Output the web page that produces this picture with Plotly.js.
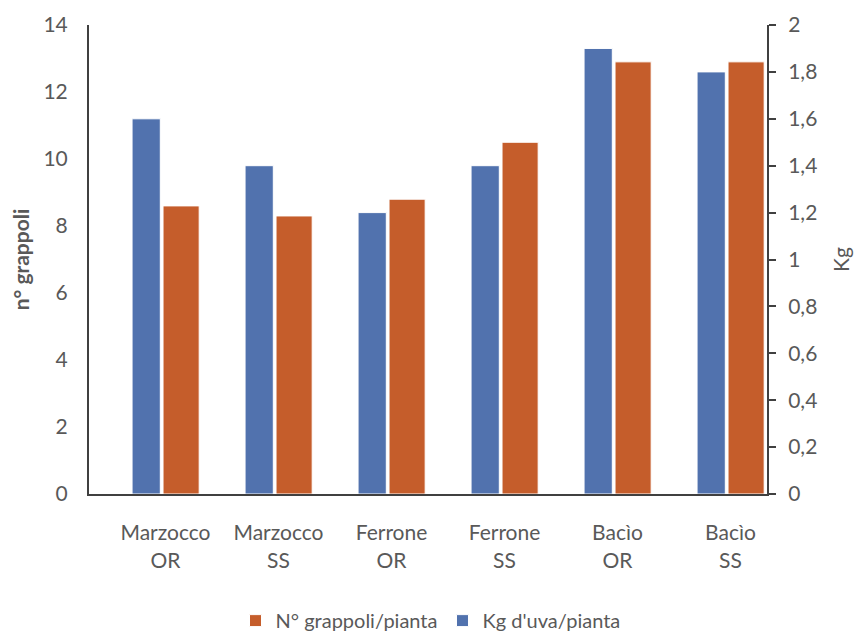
<!DOCTYPE html>
<html>
<head>
<meta charset="utf-8">
<script src="https://cdn.plot.ly/plotly-3.0.1.min.js"></script>
<style>html,body{margin:0;padding:0;background:#fff;}#chart{width:861px;height:632px;}</style>
</head>
<body>
<div id="chart"></div>
<script>
const categories = ["Marzocco<br>OR", "Marzocco<br>SS", "Ferrone<br>OR", "Ferrone<br>SS", "Bacìo<br>OR", "Bacìo<br>SS"];
const grappoliPerPianta = [8.6, 8.3, 8.8, 10.5, 12.9, 12.9];
const kgUvaPerPianta = [1.6, 1.4, 1.2, 1.4, 1.9, 1.8];
const leftTicks = [0, 2, 4, 6, 8, 10, 12, 14];
const rightTicks = [0, 0.2, 0.4, 0.6, 0.8, 1, 1.2, 1.4, 1.6, 1.8, 2];

const FONT = "Lato, 'Open Sans', sans-serif";
const GREY = "#595959";

const traces = [
  {
    type: "bar", name: "N° grappoli/pianta", x: categories, y: grappoliPerPianta,
    yaxis: "y", marker: {color: "#C55D2B", line: {color: "#ffffff", width: 1}},
    offset: -0.022, width: 0.32
  },
  {
    type: "bar", name: "Kg d'uva/pianta", x: categories, y: kgUvaPerPianta,
    yaxis: "y2", marker: {color: "#5172AE", line: {color: "#ffffff", width: 1}},
    offset: -0.296, width: 0.25
  }
];

const layout = {
  width: 861, height: 632,
  margin: {l: 89, r: 94, t: 25, b: 138, autoexpand: false},
  paper_bgcolor: "#fff", plot_bgcolor: "#fff",
  separators: ",.",
  font: {family: FONT, size: 21, color: GREY},
  showlegend: true,
  legend: {orientation: "h", x: 0.5, xref: "container", xanchor: "center",
           y: 0.018, yref: "container", yanchor: "middle",
           font: {family: FONT, size: 20, color: GREY}, traceorder: "normal", itemwidth: 30},
  xaxis: {
    type: "category", range: [-0.677, 5.323], showline: true, linecolor: "#404040", linewidth: 2,
    ticks: "", showgrid: false, zeroline: false, ticklabelstandoff: 19,
    tickfont: {family: FONT, size: 21, color: GREY}
  },
  yaxis: {
    range: [0, 14], tickvals: leftTicks, showline: true, linecolor: "#404040", linewidth: 2,
    ticks: "", showgrid: false, zeroline: false, ticklabelstandoff: 15,
    tickfont: {family: FONT, size: 21, color: GREY},
    title: {text: "<b>n° grappoli</b>", standoff: 8, font: {family: FONT, size: 21, color: GREY}}
  },
  yaxis2: {
    range: [0, 2], tickvals: rightTicks, overlaying: "y", side: "right",
    showline: true, linecolor: "#404040", linewidth: 2,
    ticks: "outside", ticklen: 7, tickwidth: 2, tickcolor: "#404040",
    showgrid: false, zeroline: false, ticklabelstandoff: 8,
    tickfont: {family: FONT, size: 21, color: GREY},
    title: {text: "Kg", standoff: 18, font: {family: FONT, size: 21, color: GREY}}
  }
};

Plotly.newPlot("chart", traces, layout, {displayModeBar: false, staticPlot: true});
</script>
</body>
</html>
